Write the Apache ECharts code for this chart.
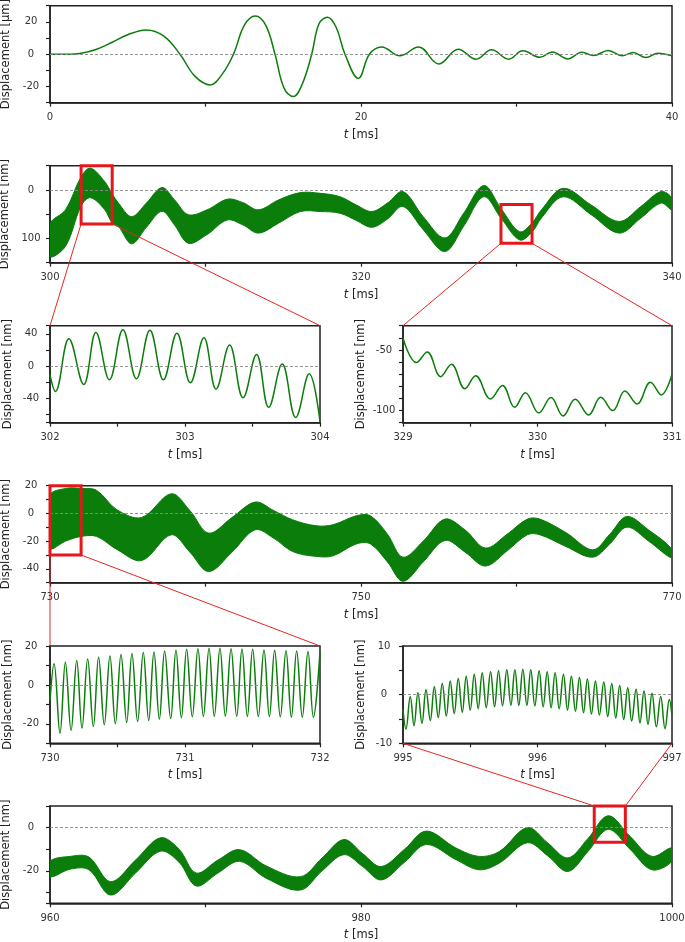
<!DOCTYPE html>
<html><head><meta charset="utf-8">
<script src="https://cdn.jsdelivr.net/npm/echarts@6/dist/echarts.min.js"></script>
<style>html,body{margin:0;padding:0;background:#fff}#c{width:685px;height:942px}</style>
</head><body><div id="c"></div>
<script>
// ---------- Panel 1: 0-40 ms, displacement in µm ----------
const p1T = [0,1,2,3,4,5,6.2,7.3,8.36,9.3,10.3,11.04,11.8,12.5,13.2,13.87,14.47,15.05,15.65,16.2,16.83,17.3,17.85,18.4,18.97,19.83,20.54,21.33,22.5,23.7,25.0,26.26,27.4,28.4,29.5,30.4,31.5,32.3,33.3,34.2,34.95,35.9,36.8,37.5,38.33,39.1,40];
const p1Y = [0,0,0.6,3.1,7.4,12,15,11.3,0,-13.4,-19,-12.8,0,18,23.7,18,0,-21,-26.2,-19,0,18.8,22.9,16.7,0,-15,0,4.5,-1,4.5,-6,3.1,-3.1,2.7,-3.1,2.1,-1.9,1.4,-2.9,1.2,-0.8,2.3,-1,1,-2.1,0.6,-1];

// ---------- Panel 2: 300-340 ms envelope (nm) ----------
const p2T  = [300,301,302,302.6,303.5,304,304.4,305.25,306.2,307.2,308.0,308.9,310.1,311.4,312.4,313.4,314.7,316.1,317.4,318.65,319.7,320.7,321.7,322.7,324.0,325.4,326.6,327.9,329.0,330.2,331.0,331.6,333.0,334.8,336.6,338.0,339.3,340];
const p2Up = [-70,-41,27,45,18,-8,-27,-55,-27,5,-20,-51,-41,-19,-26,-41,-20.5,-5.5,-7,-14,-31,-44.5,-27,-3.4,-55,-99,-48,9,-38,-86,-68,-41,3.4,-31,-65,-34,-3.4,-17];
const p2Lo = [-137,-116,-33,-16,-40,-68,-75,-111,-77,-44,-72,-110,-92,-62,-72,-89,-68.5,-44.5,-44.5,-48,-63,-77,-60,-34,-82,-127,-75,-14,-58,-103,-87,-58,-14,-51,-89,-58,-27,-41];

// ---------- Panel 3: 302-304 ms ----------
const p3T = [302,302.04,302.14,302.25,302.34,302.44,302.54,302.64,302.74,302.84,302.94,303.04,303.14,303.23,303.33,303.43,303.53,303.62,303.72,303.82,303.92,304];
const p3Y = [-10.7,-31.3,33.8,-22.7,41.6,-16.9,45,-15.7,44.5,-16.9,40.8,-20.6,35,-28.5,26,-39.2,14.4,-51,2.5,-63.5,-9.5,-68.5];

// ---------- Panel 4: 329-331 ms ----------
const p4T = [329,329.1,329.18,329.28,329.36,329.46,329.54,329.65,329.74,329.83,329.91,330.01,330.1,330.19,330.28,330.38,330.47,330.56,330.65,330.74,330.84,330.92,331];
const p4Y = [-40.4,-60.4,-51.6,-72,-61.8,-81.9,-71.2,-90.4,-79.4,-97.3,-85.2,-101.9,-89.3,-104.4,-90.7,-103.6,-89,-100,-83.8,-94.5,-76.6,-87.1,-70];

// ---------- Panel 5: 730-770 ms envelope ----------
const p5T  = [730,731,732,733,734.3,735.9,737.8,739.0,740.2,741.7,743.2,744.4,745.6,747.1,748.2,749.7,750.6,751.7,752.7,754.0,755.4,756.7,758.0,759.4,760.7,761.5,763.2,764.9,766.0,767.1,768.5,770];
const p5Up = [13,18,18,16.6,2.7,-2.9,14.2,2,-14.2,-3,8.2,2,-4.6,-8.9,-8.2,-1.7,-1.7,-15,-31.6,-20,-4.1,-12,-25,-15,-4.1,-4.1,-14,-26.3,-15,-2.2,-12,-25.8];
const p5Lo = [-25,-20,-16.6,-16.6,-26,-34,-15.4,-28,-42,-28,-11.8,-18,-27.5,-31,-30.6,-22,-22,-35,-49,-35,-19.5,-28,-38,-27,-15.4,-15.4,-24,-31.6,-22,-9.9,-20,-32.3];

// ---------- Panel 6: 730-732 ms ----------
const p6T = [730,730.030,730.074,730.114,730.156,730.198,730.237,730.279,730.321,730.360,730.402,730.444,730.484,730.526,730.568,730.607,730.649,730.691,730.731,730.770,730.810,730.849,730.894,730.933,730.973,731.012,731.054,731.096,731.136,731.178,731.217,731.259,731.299,731.341,731.383,731.422,731.462,731.501,731.543,731.585,731.625,731.664,731.706,731.748,731.788,731.827,731.869,731.911,731.951,732];
const p6Y = [-8,10.9,-24.8,11.6,-23.4,12.6,-22.2,13.3,-21.4,14.2,-20.5,14.9,-20,15.6,-19.3,16.1,-18.8,16.6,-18.3,16.9,-17.6,17.4,-17.3,17.8,-16.9,18.3,-16.4,18.6,-16.2,18.8,-16.1,18.8,-16.1,18.6,-16.1,18.5,-16.2,18.3,-16.2,18.0,-16.2,17.8,-16.4,17.6,-16.6,17.4,-16.6,17.2,-16.6,17];

// ---------- Panel 7: 995-997 ms ----------
const p7T = [995,995.022,995.054,995.082,995.111,995.141,995.171,995.203,995.233,995.262,995.292,995.322,995.351,995.381,995.411,995.441,995.470,995.500,995.530,995.559,995.589,995.619,995.651,995.681,995.710,995.740,995.772,995.802,995.832,995.861,995.891,995.921,995.950,995.980,996.012,996.042,996.072,996.101,996.131,996.161,996.193,996.223,996.252,996.282,996.312,996.342,996.371,996.401,996.431,996.460,996.493,996.522,996.552,996.582,996.611,996.641,996.671,996.700,996.733,996.762,996.792,996.822,996.851,996.884,996.916,996.948,996.980,997];
const p7Y = [-3,-7.1,-0.4,-6.4,0.4,-5.9,1.0,-5.3,1.6,-4.7,2.3,-4.4,2.8,-3.9,3.3,-3.6,3.8,-3.2,4.2,-2.9,4.5,-2.7,4.7,-2.5,4.9,-2.3,5.1,-2.2,5.1,-2.2,5.2,-2.2,5.1,-2.3,4.9,-2.5,4.7,-2.7,4.5,-2.9,4.2,-3.2,3.8,-3.4,3.5,-3.7,3.2,-4.0,2.8,-4.2,2.6,-4.5,2.3,-4.8,1.9,-5.1,1.4,-5.4,1.1,-5.8,0.75,-6.1,0.3,-6.6,-0.4,-7.0,-1.0,-4.4];

// ---------- Panel 8: 960-1000 ms envelope ----------
const p8T  = [960,961.3,962.5,963.9,965.5,967.1,968.3,969.4,970.8,972.2,973.9,976.1,977.5,978.9,980.1,981.3,982.8,984.2,986.1,987.6,988.9,990.7,992.0,993.3,994.6,995.9,997.3,998.7,1000];
const p8Up = [-15.6,-13.3,-13.6,-25,-15,-4.7,-10,-21,-15,-10.2,-17.7,-22.7,-14,-5.5,-12,-18,-10,-1.6,-9.4,-13.3,-11,0,-7,-14,-5,5.5,-4,-13.3,-9.4];
const p8Lo = [-22.7,-19.2,-19.5,-31.2,-21,-10.9,-16,-27,-21,-15.6,-23.4,-28.9,-20,-12.5,-18,-24.2,-16,-7.8,-14.8,-19.5,-16.4,-7,-13,-20.3,-11,-0.8,-10,-19.5,-15.6];

// ---------- layout / axes ----------
const GREEN = '#0a7d0a';
const FONT = 'DejaVu Sans';
const panels = [
  {box:{left:50, top:5.7, width:622, height:97}, x:[0,40], xi:10, xl:20, y:[-30,30], yi:10, yl:20, unit:'µm', zero:true},
  {box:{left:50, top:165.7, width:622, height:97}, x:[300,340], xi:10, xl:20, y:[-150,50], yi:50, yl:100, unit:'nm', zero:true, absLabel:true},
  {box:{left:50, top:325.7, width:270, height:97}, x:[302,304], xi:0.5, xl:1, y:[-70,50], ysplit:6, yl:40, unit:'nm', zero:true},
  {box:{left:403, top:325.7, width:269, height:97}, x:[329,331], xi:0.5, xl:1, y:[-110,-30], yi:10, yl:50, unit:'nm', zero:false},
  {box:{left:50, top:485.7, width:622, height:97}, x:[730,770], xi:10, xl:20, y:[-50,20], yi:10, yl:20, unit:'nm', zero:true},
  {box:{left:50, top:646, width:270, height:97.3}, x:[730,732], xi:0.5, xl:1, y:[-30,20], yi:10, yl:20, unit:'nm', zero:true},
  {box:{left:403, top:646, width:269, height:97.3}, x:[995,997], xi:0.5, xl:1, y:[-10,10], yi:5, yl:10, unit:'nm', zero:true},
  {box:{left:50, top:806, width:622, height:97.3}, x:[960,1000], xi:10, xl:20, y:[-35,10], ysplit:5, yl:20, unit:'nm', zero:true}
];

function isMult(v, s){ const q = v / s; return Math.abs(q - Math.round(q)) < 1e-6; }

const grids = [], xAxes = [], yAxes = [], series = [];
const axisLineStyle = {color:'#222', width:1.5};
panels.forEach((p, gi) => {
  grids.push(Object.assign({show:true, borderColor:'#222', borderWidth:1.5, backgroundColor:'transparent',
    containLabel:false, outerBoundsMode:'none'}, p.box));
  xAxes.push({
    type:'value', gridIndex:gi, min:p.x[0], max:p.x[1], interval:p.xi,
    axisLine:{show:true, onZero:false, lineStyle:axisLineStyle},
    axisTick:{show:true, length:4, lineStyle:{color:'#222', width:1.2}},
    splitLine:{show:false},
    axisLabel:{margin:10, fontSize:10, color:'#333', fontFamily:FONT, showMinLabel:true, showMaxLabel:true,
      formatter: v => isMult(v - p.x[0], p.xl) ? String(+v.toFixed(3)) : ''},
    name:'{i|t} [ms]', nameLocation:'middle', nameGap:26,
    nameTextStyle:{fontSize:11.5, color:'#222', fontFamily:FONT, rich:{i:{fontStyle:'italic', fontSize:11.5, color:'#222', fontFamily:FONT}}}
  });
  const ya = {
    type:'value', gridIndex:gi, min:p.y[0], max:p.y[1],
    axisLine:{show:true, onZero:false, lineStyle:axisLineStyle},
    axisTick:{show:true, length:4, lineStyle:{color:'#222', width:1.2}},
    splitLine:{show:false},
    axisLabel:{margin:19, align:'center', fontSize:10, color:'#333', fontFamily:FONT,
      formatter: v => isMult(v, p.yl) ? (p.absLabel ? String(Math.abs(v)) : String(v)) : ''},
    name:'Displacement [' + p.unit + ']', nameLocation:'middle', nameGap:36,
    nameTextStyle:{fontSize:11.5, color:'#222', fontFamily:FONT}
  };
  if (p.yi) ya.interval = p.yi; else ya.splitNumber = p.ysplit;
  yAxes.push(ya);
  if (p.zero) {
    series.push({type:'line', xAxisIndex:gi, yAxisIndex:gi, data:[], z:1, silent:true,
      markLine:{silent:true, symbol:'none', label:{show:false}, animation:false,
        lineStyle:{color:'#8a8a8a', type:[3,2], width:0.9}, data:[{yAxis:0}]}});
  }
});

function lineSeries(gi, t, y){
  return {type:'line', xAxisIndex:gi, yAxisIndex:gi, data:t.map((x,i)=>[x, y[i]]),
    smooth:0.4, symbol:'none', lineStyle:{color:GREEN, width:1.5}, z:3, silent:true};
}
// filled envelope band (upper / lower edge)
function bandSeries(gi, t, up, lo){
  return {type:'custom', coordinateSystem:'cartesian2d', xAxisIndex:gi, yAxisIndex:gi, clip:true, silent:true, z:3,
    data:t.map((x,i)=>[x, up[i], lo[i]]),
    encode:{x:0, y:[1,2]},
    renderItem:(params, api) => {
      if (params.dataIndex !== 0) return null;
      const pts = [];
      for (let i = 0; i < t.length; i++) pts.push(api.coord([t[i], up[i]]));
      for (let i = t.length - 1; i >= 0; i--) pts.push(api.coord([t[i], lo[i]]));
      return {type:'polygon', shape:{points:pts, smooth:0.35}, style:{fill:GREEN, stroke:GREEN, lineWidth:1}};
    }};
}
series.push(lineSeries(0, p1T, p1Y));
series.push(bandSeries(1, p2T, p2Up, p2Lo));
series.push(lineSeries(2, p3T, p3Y));
series.push(lineSeries(3, p4T, p4Y));
series.push(bandSeries(4, p5T, p5Up, p5Lo));
series.push(lineSeries(5, p6T, p6Y));
series.push(lineSeries(6, p7T, p7Y));
series.push(bandSeries(7, p8T, p8Up, p8Lo));

const chart = echarts.init(document.getElementById('c'), null, {renderer:'canvas', width:685, height:942});
chart.setOption({animation:false, backgroundColor:'#fff', grid:grids, xAxis:xAxes, yAxis:yAxes, series:series});

// ---------- zoom boxes and connectors ----------
const zoomBoxes = [
  {src:1, x:[302,304], y:[-70,50], dst:2, below:true},
  {src:1, x:[329,331], y:[-110,-30], dst:3, below:true},
  {src:4, x:[730,732], y:[-30,20], dst:5, below:true},
  {src:7, x:[995,997], y:[-6.8,10], dst:6, below:false}
];
const gfx = [];
zoomBoxes.forEach(b => {
  const a = chart.convertToPixel({gridIndex:b.src}, [b.x[0], b.y[1]]);
  const c = chart.convertToPixel({gridIndex:b.src}, [b.x[1], b.y[0]]);
  const d = panels[b.dst];
  const yEdgeVal = b.below ? d.y[1] : d.y[0];
  const t0 = chart.convertToPixel({gridIndex:b.dst}, [d.x[0], yEdgeVal]);
  const t1 = chart.convertToPixel({gridIndex:b.dst}, [d.x[1], yEdgeVal]);
  const by = b.below ? c[1] : a[1];
  gfx.push({type:'line', z:50, silent:true, shape:{x1:a[0], y1:by, x2:t0[0], y2:t0[1]}, style:{stroke:'#e8261f', lineWidth:1}});
  gfx.push({type:'line', z:50, silent:true, shape:{x1:c[0], y1:by, x2:t1[0], y2:t1[1]}, style:{stroke:'#e8261f', lineWidth:1}});
  gfx.push({type:'rect', z:60, silent:true, shape:{x:a[0], y:a[1], width:c[0]-a[0], height:c[1]-a[1]}, style:{fill:null, stroke:'#e8161b', lineWidth:3}});
});
chart.setOption({graphic:gfx});
</script>
</body></html>
